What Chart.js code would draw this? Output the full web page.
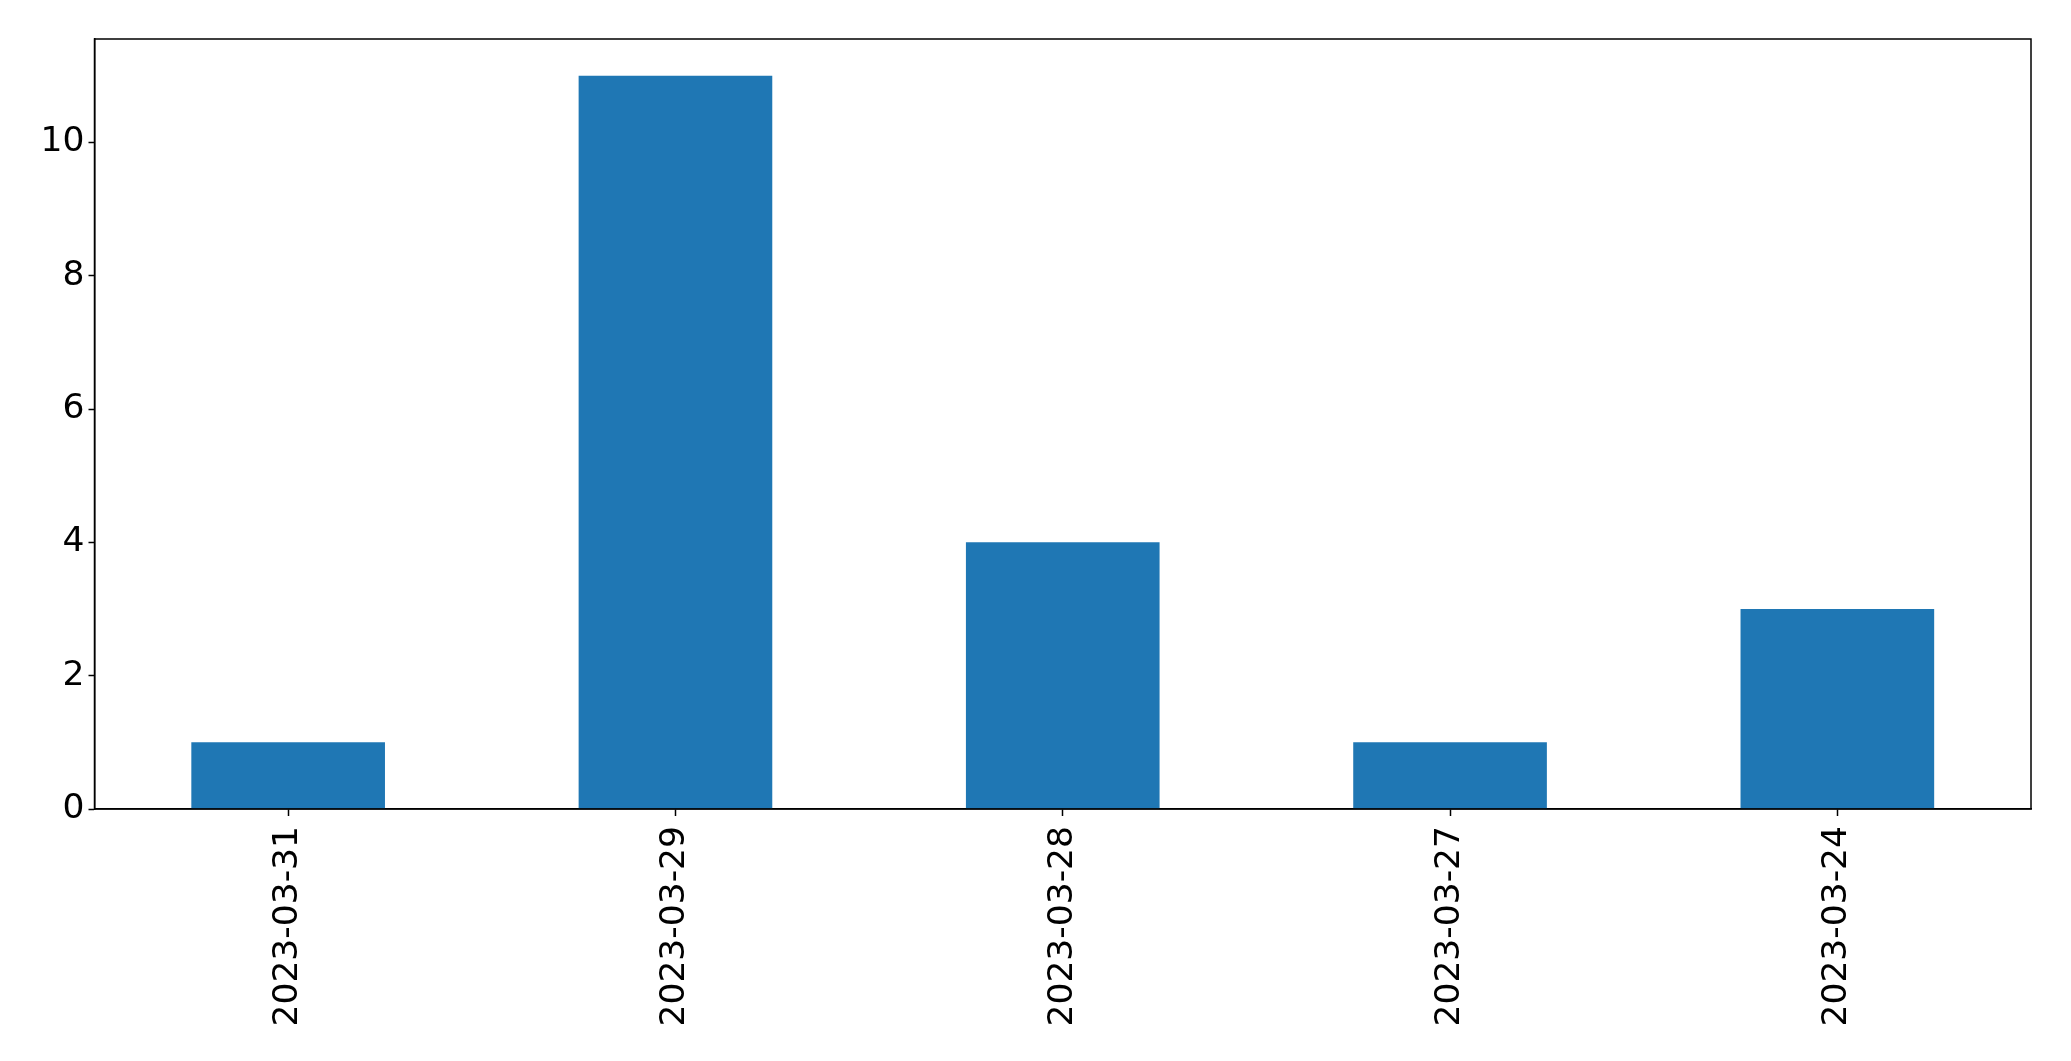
<!DOCTYPE html>
<html>
<head>
<meta charset="utf-8">
<script src="https://cdn.jsdelivr.net/npm/chart.js@4"></script>
<style>
  html, body { margin:0; padding:0; background:#fff; }
  canvas { display:block; }
</style>
</head>
<body>
<canvas id="countChart" width="2071" height="1061"></canvas>
<script>
const dateLabels = ["2023-03-31", "2023-03-29", "2023-03-28", "2023-03-27", "2023-03-24"];
const countValues = [1, 11, 4, 1, 3];
const yTickValues = [0, 2, 4, 6, 8, 10];
const yMax = 11.55;

// box around the plot area, like a matplotlib frame
const frameBox = {
    id:"frameBox",
    afterDraw(chart){
        const a = chart.chartArea;
        const c = chart.ctx;
        c.save();
        c.strokeStyle = "#000";
        c.lineWidth = 1.5;
        c.strokeRect(a.left, a.top, a.right - a.left, a.bottom - a.top);
        c.restore();
    }
};

const tickFont = { family:"DejaVu Sans", size:34.5 };

const ctx = document.getElementById("countChart").getContext("2d");
new Chart(ctx,{
    type:"bar",
    data:{
        labels:dateLabels,
        datasets:[{
            data:countValues,
            backgroundColor:"#1f77b4",
            categoryPercentage:0.5,
            barPercentage:1.0
        }]
    },
    options:{
        responsive:false,
        animation:false,
        layout:{ padding:{ top:39, right:40, left:0, bottom:0 } },
        plugins:{
            legend:{ display:false },
            tooltip:{ enabled:false }
        },
        scales:{
            x:{
                grid:{ display:true, offset:false, drawOnChartArea:false, tickLength:7, color:"#000", tickWidth:1.5 },
                border:{ color:"#000", width:1.5 },
                ticks:{ color:"#000", font:tickFont, minRotation:90, maxRotation:90, padding:10 },
                afterFit(scale){ scale.height = 1061 - 809; }
            },
            y:{
                min:0,
                max:yMax,
                grid:{ display:true, drawOnChartArea:false, tickLength:6, color:"#000", tickWidth:1.5 },
                border:{ color:"#000", width:1.5 },
                ticks:{ color:"#000", font:tickFont, padding:4, stepSize:2, includeBounds:false },
                afterBuildTicks(scale){
                    scale.ticks = yTickValues.map((v) => ({ value:v }));
                },
                afterFit(scale){ scale.width = 94.5; }
            }
        }
    },
    plugins:[frameBox]
});
</script>
</body>
</html>
